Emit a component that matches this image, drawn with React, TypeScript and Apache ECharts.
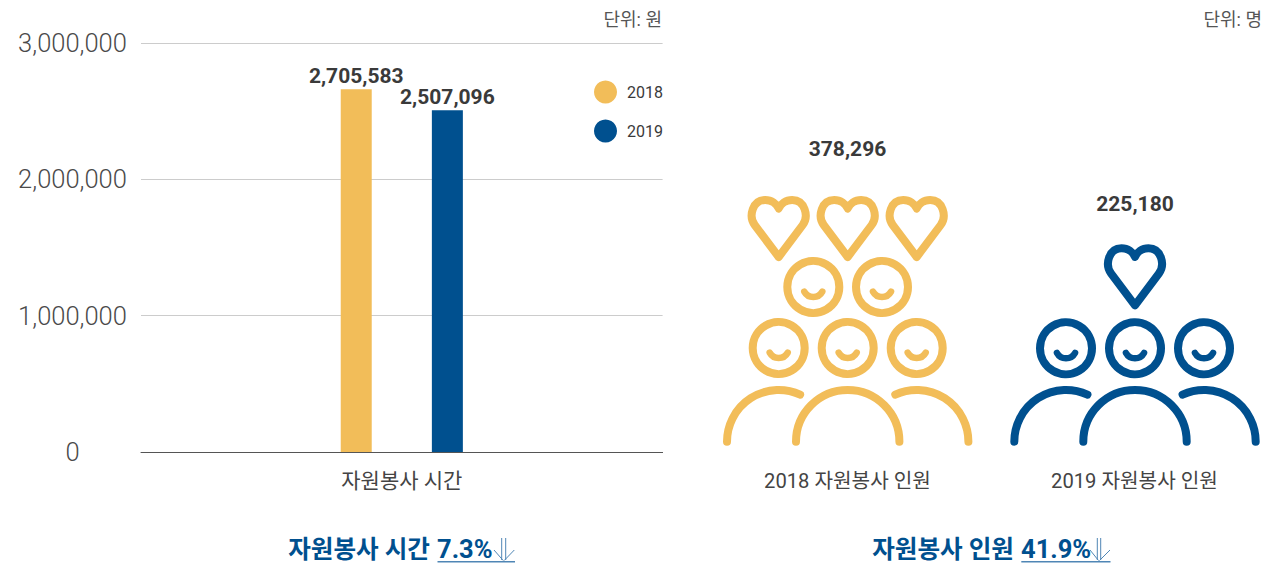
import React, { useEffect, useRef } from "react";
import * as echarts from "echarts";

const categories = ["자원봉사 시간"];
const seriesNames = ["2018", "2019"];
const hours2018 = [2660000];
const hours2019 = [2507096];
const barLabels = ["2,705,583", "2,507,096"];
const peopleLabels = ["378,296", "225,180"];
const peopleCaptions = ["2018 자원봉사 인원", "2019 자원봉사 인원"];
const units = ["단위: 원", "단위: 명"];
const summaries = ["자원봉사 시간", "7.3%", "자원봉사 인원", "41.9%"];

const YELLOW = "#F2BD59";
const BLUE = "#00508F";
const FONT = 'Roboto, "Noto Sans CJK KR", "Noto Sans", sans-serif';

echarts.graphic.registerShape(
  "heart",
  echarts.graphic.extendPath(
    "M0 57 L-24 25 C-30.5 16 -26 0 -13.5 0 C-7 0 -2 4 0 8.5 C2 4 7 0 13.5 0 C26 0 30.5 16 24 25 Z",
    {}
  )
);

const arcLine = (cx: number, cy: number, r: number, a0: number, a1: number, color: string, w: number) => ({
  type: "arc",
  silent: true,
  shape: { cx, cy, r, startAngle: a0, endAngle: a1, clockwise: true },
  style: { fill: "none", stroke: color, lineWidth: w, lineCap: "round" },
});

const face = (cx: number, cy: number, color: string) => [
  { type: "circle", silent: true, shape: { cx, cy, r: 26 }, style: { fill: "none", stroke: color, lineWidth: 8 } },
  arcLine(cx, cy - 0.3, 10.3, 0.5, Math.PI - 0.5, color, 6.5),
];

const heart = (cx: number, top: number, color: string) => ({
  type: "heart",
  silent: true,
  x: cx,
  y: top,
  style: { fill: "none", stroke: color, lineWidth: 8, lineJoin: "round" },
});

const bodies = (xs: number[], color: string) => {
  const a = (294.5 * Math.PI) / 180;
  const b = (245.5 * Math.PI) / 180;
  return [
    arcLine(xs[0], 441.7, 51.7, Math.PI, a, color, 8),
    arcLine(xs[1], 441.7, 51.7, Math.PI, Math.PI * 2, color, 8),
    arcLine(xs[2], 441.7, 51.7, b, Math.PI * 2, color, 8),
  ];
};

const text = (x: number, y: number, t: string, size: number, color: string, align: string, weight: any = "normal") => ({
  type: "text",
  silent: true,
  x,
  y,
  style: { text: t, fontSize: size, fill: color, align, verticalAlign: "middle", fontWeight: weight, fontFamily: FONT },
});

const seg = (x1: number, y1: number, x2: number, y2: number, w = 1) => ({
  type: "line",
  silent: true,
  shape: { x1, y1, x2, y2 },
  style: { stroke: "#4F86B5", lineWidth: w },
});

const arrow = (left: number, x1: number, x2: number, right: number) => {
  const tip = (x1 + x2) / 2;
  return [
    seg(x1, 538, x1, 560),
    seg(x2, 538, x2, 560),
    seg(left, 550, tip - 0.5, 560.5),
    seg(right, 550, tip + 0.5, 560.5),
  ];
};

export default function App() {
  const ref = useRef<HTMLDivElement>(null);
  useEffect(() => {
    document.body.style.margin = "0";
    const chart = echarts.init(ref.current!, undefined, { renderer: "svg" });
    const labelStyle = (i: number) => ({
      show: true,
      position: "top" as const,
      distance: 3,
      formatter: () => barLabels[i],
      fontSize: 21,
      fontWeight: "bold" as const,
      color: "#3A3A3A",
      fontFamily: FONT,
    });
    chart.setOption({
      animation: false,
      textStyle: { fontFamily: FONT },
      grid: { left: 141, width: 521.6, top: 43, height: 409 },
      legend: {
        orient: "vertical",
        left: 594,
        top: 80.5,
        icon: "circle",
        itemWidth: 23,
        itemHeight: 23,
        itemGap: 16,
        padding: 0,
        data: seriesNames,
        textStyle: { fontSize: 16, color: "#3A3A3A", fontFamily: FONT, padding: [1, 0, 0, 5] },
      },
      xAxis: {
        type: "category",
        data: categories,
        axisTick: { show: false },
        axisLine: { lineStyle: { color: "#555555", width: 1 } },
        axisLabel: { fontSize: 21, color: "#444444", margin: 18, fontFamily: FONT },
      },
      yAxis: {
        type: "value",
        min: 0,
        max: 3000000,
        interval: 1000000,
        axisLine: { show: false },
        axisTick: { show: false },
        splitLine: { lineStyle: { color: "#CCCCCC", width: 1 } },
        axisLabel: {
          align: "center",
          margin: 68.5,
          fontSize: 25.5,
          fontWeight: 300,
          color: "#4A4A4A",
          fontFamily: FONT,
          padding: [0, 0, 3, 0],
          formatter: (v: number) => v.toLocaleString("en-US"),
        },
      },
      series: [
        { name: seriesNames[0], type: "bar", data: hours2018, barWidth: 31, barGap: "194%", itemStyle: { color: YELLOW }, label: labelStyle(0) },
        { name: seriesNames[1], type: "bar", data: hours2019, barWidth: 31, itemStyle: { color: BLUE }, label: labelStyle(1) },
      ],
      graphic: [
        text(662, 19.5, units[0], 18, "#555555", "right"),
        text(1262, 19.5, units[1], 18, "#555555", "right"),
        text(847.5, 148.5, peopleLabels[0], 21, "#3A3A3A", "center", "bold"),
        text(1135, 203.5, peopleLabels[1], 21, "#3A3A3A", "center", "bold"),
        text(847.5, 481, peopleCaptions[0], 20.2, "#444444", "center"),
        text(1134.5, 481, peopleCaptions[1], 20.2, "#444444", "center"),
        text(430, 549, summaries[0], 24.6, BLUE, "right", "bold"),
        text(437, 549, summaries[1], 25.5, BLUE, "left", "bold"),
        text(1014, 549, summaries[2], 24.6, BLUE, "right", "bold"),
        text(1021, 549, summaries[3], 25.5, BLUE, "left", "bold"),
        seg(437.5, 561.7, 515, 561.7, 1.6),
        seg(1021.3, 561.7, 1110.5, 561.7, 1.6),
        ...arrow(494, 501.7, 505.7, 514.3),
        ...arrow(1090, 1097.3, 1100.7, 1110),
        heart(778.7, 200, YELLOW),
        heart(847.7, 200, YELLOW),
        heart(916.7, 200, YELLOW),
        ...face(813.3, 287, YELLOW),
        ...face(882, 287, YELLOW),
        ...face(778.7, 348, YELLOW),
        ...face(847.7, 348, YELLOW),
        ...face(916.7, 348, YELLOW),
        ...bodies([778.7, 847.7, 916.7], YELLOW),
        heart(1135, 248.3, BLUE),
        ...face(1066, 348.3, BLUE),
        ...face(1135, 348.3, BLUE),
        ...face(1204, 348.3, BLUE),
        ...bodies([1066, 1135, 1204], BLUE),
      ],
    });
    return () => chart.dispose();
  }, []);
  return <div ref={ref} style={{ width: 1262, height: 567 }} />;
}
